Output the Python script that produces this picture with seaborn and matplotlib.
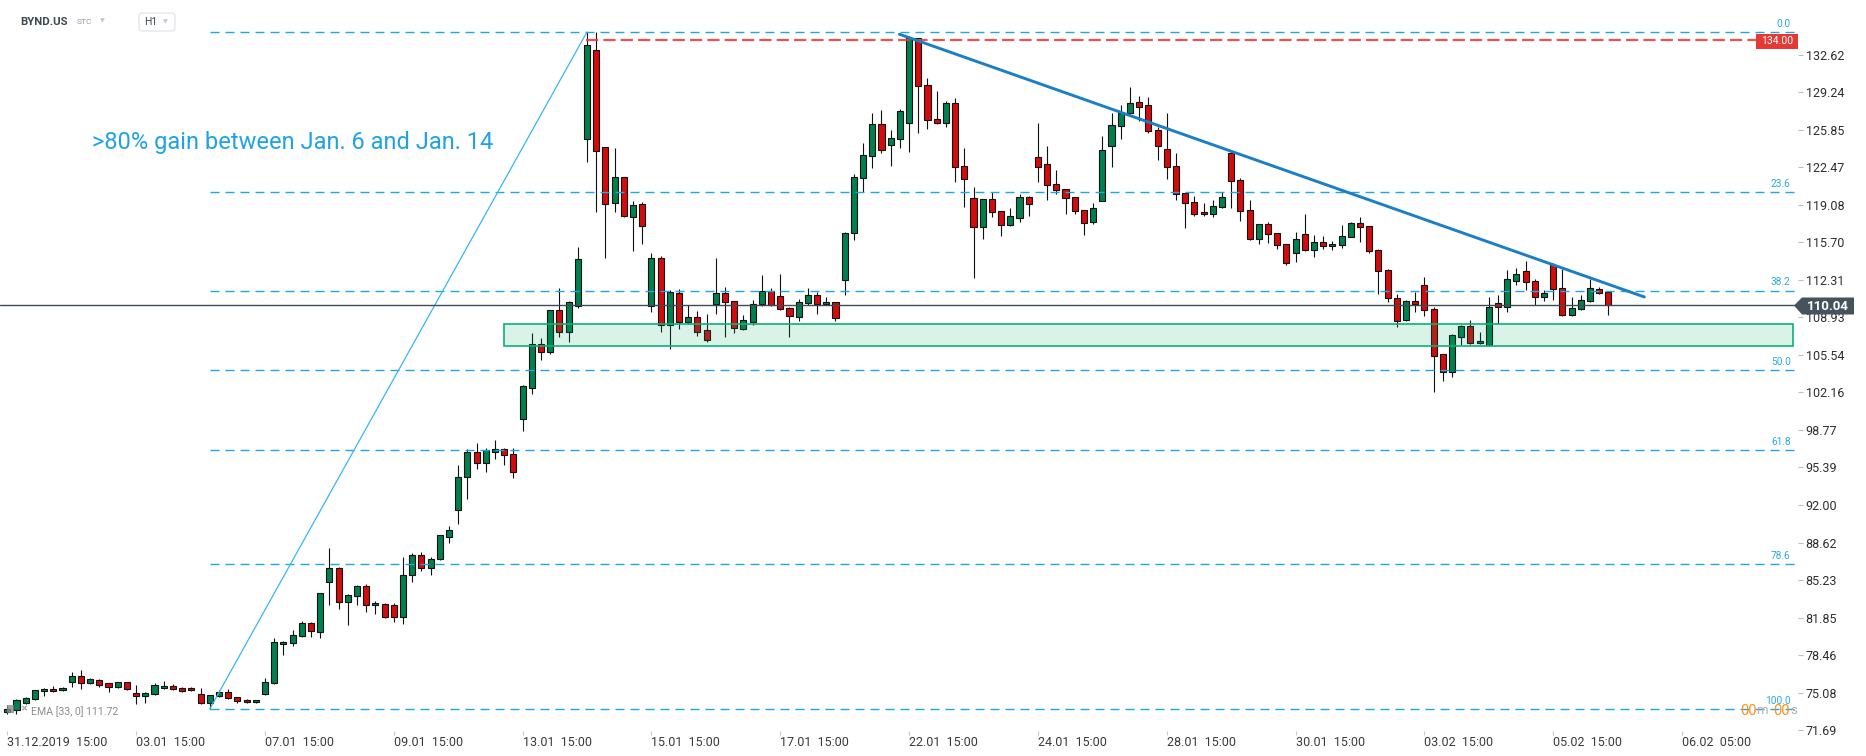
import matplotlib
matplotlib.use("Agg")
import matplotlib.pyplot as plt
from matplotlib.patches import Rectangle, Polygon, FancyBboxPatch
from matplotlib.transforms import IdentityTransform
import seaborn as sns
import pandas as pd
import numpy as np

sns.set_theme(style="white")
plt.rcParams["font.family"] = ["Roboto", "DejaVu Sans"]

W, H = 1866, 756

# BYND.US, H1 candles, 31.12.2019 15:00 .. 05.02.2020 21:00 (index = candle number)
opens = [73.32, 73.50, 74.16, 74.46, 75.19, 75.37, 75.28, 76.06, 76.54, 75.91,
         76.24, 75.91, 75.55, 76.00, 75.01, 74.74, 74.95, 75.46, 75.64, 75.46,
         75.46, 74.92, 74.10, 74.74, 75.10, 74.65, 74.37, 74.19, 74.92, 75.91,
         79.43, 79.52, 80.15, 81.32, 80.51, 85.07, 86.36, 83.26, 83.83, 84.71,
         82.94, 83.10, 83.02, 81.93, 85.72, 87.53, 86.28, 87.09, 89.14, 91.52,
         94.50, 96.80, 95.83, 96.76, 97.08, 96.63, 99.78, 102.55, 106.54, 105.82,
         109.58, 107.59, 109.95, 125.01, 133.07, 124.29, 119.23, 121.58, 118.03, 119.14,
         109.97, 114.27, 108.23, 111.11, 108.56, 108.95, 107.77, 110.12, 111.11, 110.39,
         107.86, 108.56, 110.12, 111.29, 110.84, 109.76, 108.95, 110.21, 110.93, 110.12,
         110.30, 112.31, 116.53, 121.49, 123.48, 126.36, 124.47, 125.01, 126.45, 134.13,
         129.88, 126.81, 126.45, 128.26, 122.57, 119.69, 117.13, 119.60, 118.51, 117.25,
         117.88, 119.78, 123.39, 122.75, 120.95, 120.50, 119.78, 118.60, 117.52, 119.41,
         124.38, 126.18, 127.36, 128.35, 128.08, 125.82, 124.11, 122.57, 120.14, 119.32,
         118.42, 118.24, 118.87, 123.75, 121.31, 118.60, 115.98, 117.34, 116.53, 115.53,
         114.72, 116.44, 114.99, 115.71, 115.35, 115.44, 116.17, 117.43, 117.16, 114.99,
         113.19, 110.66, 108.67, 110.42, 111.84, 109.67, 105.61, 103.98, 107.14, 108.14,
         106.60, 106.42, 110.21, 109.85, 112.20, 113.10, 112.20, 110.75, 113.64, 111.57,
         109.13, 109.67, 110.39, 111.47, 111.20]
highs = [73.95, 74.46, 74.71, 75.30, 75.52, 75.64, 75.55, 76.90, 77.08, 76.36,
         76.33, 75.97, 76.03, 76.03, 75.76, 75.10, 75.91, 76.09, 75.82, 75.55,
         75.55, 75.46, 74.83, 75.28, 75.37, 74.65, 74.46, 74.37, 76.39, 80.00,
         79.70, 80.69, 81.50, 81.41, 84.05, 88.10, 86.40, 83.95, 84.75, 84.88,
         83.34, 83.20, 83.18, 87.33, 87.69, 87.77, 87.33, 89.32, 90.11, 95.63,
         97.08, 97.56, 97.16, 97.88, 97.16, 97.16, 102.80, 107.51, 107.06, 109.62,
         111.60, 110.39, 115.32, 134.70, 134.70, 124.29, 124.23, 121.60, 119.44, 119.32,
         114.72, 114.48, 111.41, 111.50, 110.06, 109.52, 109.25, 114.27, 111.72, 110.40,
         109.16, 110.51, 112.77, 111.60, 112.86, 109.91, 110.57, 111.60, 111.20, 110.75,
         110.32, 116.60, 121.88, 124.65, 127.36, 127.66, 125.85, 127.72, 134.37, 134.15,
         130.52, 129.37, 128.47, 128.71, 124.23, 120.68, 119.62, 120.23, 118.55, 118.78,
         120.05, 119.93, 126.48, 124.38, 122.21, 120.52, 119.80, 118.62, 119.23, 125.28,
         127.36, 128.08, 129.70, 128.89, 128.80, 126.09, 127.36, 123.75, 120.15, 119.87,
         119.23, 119.50, 120.23, 123.93, 121.49, 119.50, 117.36, 117.52, 116.55, 115.55,
         116.62, 118.24, 116.35, 116.26, 115.80, 117.25, 117.52, 117.97, 117.18, 115.08,
         113.28, 111.02, 110.48, 111.23, 112.59, 109.85, 105.62, 107.41, 108.23, 108.71,
         107.59, 110.75, 110.93, 113.19, 113.37, 114.00, 112.38, 111.38, 113.82, 113.28,
         110.75, 110.93, 112.38, 111.66, 111.22]
lows = [73.11, 73.11, 74.01, 74.40, 74.80, 75.13, 75.19, 75.55, 75.43, 75.88,
        75.55, 75.16, 75.52, 75.34, 74.01, 74.16, 74.83, 75.40, 75.28, 75.10,
        75.19, 74.01, 73.59, 74.68, 74.46, 74.10, 74.10, 74.10, 74.85, 75.85,
        78.44, 79.25, 80.06, 80.06, 79.97, 82.98, 82.58, 81.21, 82.98, 82.34,
        82.14, 81.85, 81.45, 81.29, 85.07, 86.04, 85.72, 87.00, 88.62, 90.31,
        92.53, 95.22, 94.98, 96.15, 95.63, 94.46, 98.69, 101.99, 105.09, 105.61,
        107.20, 106.75, 109.76, 123.00, 118.48, 114.27, 118.48, 118.03, 114.96, 115.59,
        109.46, 107.65, 106.06, 107.90, 108.35, 107.29, 106.75, 109.28, 107.20, 107.50,
        107.80, 108.26, 109.97, 110.00, 109.60, 107.20, 108.65, 110.06, 109.28, 110.03,
        108.65, 110.96, 115.92, 120.29, 122.39, 123.81, 122.63, 124.26, 123.90, 125.55,
        125.97, 126.40, 126.09, 121.18, 118.93, 112.52, 116.04, 117.97, 116.32, 117.20,
        117.58, 118.12, 121.19, 119.50, 120.05, 118.24, 118.24, 116.35, 117.34, 119.40,
        122.48, 125.01, 127.30, 126.63, 125.55, 123.11, 121.40, 119.50, 116.98, 118.06,
        118.06, 117.97, 118.85, 118.78, 117.67, 115.95, 115.53, 115.62, 115.08, 113.64,
        113.97, 114.97, 114.36, 115.08, 114.99, 115.17, 116.15, 115.71, 114.72, 111.02,
        110.30, 108.04, 108.60, 109.46, 109.10, 102.24, 103.23, 103.53, 106.48, 106.58,
        106.51, 106.40, 108.35, 109.40, 111.84, 111.44, 110.03, 110.39, 110.51, 109.04,
        109.04, 109.58, 110.35, 111.02, 109.19]
closes = [73.56, 74.37, 74.55, 75.28, 75.37, 75.19, 75.46, 76.54, 75.91, 76.27,
          75.73, 75.55, 76.00, 75.37, 74.77, 75.01, 75.73, 75.64, 75.37, 75.19,
          75.28, 74.10, 74.83, 75.10, 74.55, 74.28, 74.19, 74.37, 76.00, 79.61,
          79.61, 80.24, 81.32, 80.60, 84.03, 86.36, 83.26, 83.91, 84.71, 83.02,
          83.18, 81.93, 81.93, 85.72, 87.53, 86.28, 87.17, 89.30, 89.79, 94.54,
          96.80, 95.83, 97.00, 97.08, 96.55, 95.02, 102.76, 106.54, 105.82, 109.58,
          107.59, 110.30, 114.18, 133.52, 123.99, 119.14, 121.58, 118.12, 119.05, 117.22,
          114.27, 108.23, 111.20, 108.56, 108.95, 107.65, 106.87, 111.11, 110.30, 107.96,
          108.68, 110.12, 111.29, 110.03, 109.67, 109.04, 110.30, 110.93, 110.12, 110.30,
          108.86, 116.53, 121.58, 123.57, 126.36, 124.02, 125.10, 127.54, 134.13, 129.79,
          126.72, 126.45, 128.26, 122.48, 121.40, 117.13, 119.60, 118.42, 117.25, 118.06,
          119.78, 119.14, 122.48, 120.86, 120.41, 119.69, 118.51, 117.43, 118.78, 124.02,
          126.27, 127.36, 128.26, 127.90, 125.73, 124.38, 122.48, 120.05, 119.23, 118.24,
          118.24, 118.96, 119.78, 121.22, 118.51, 115.98, 117.34, 116.44, 115.44, 113.82,
          115.98, 114.99, 115.71, 115.35, 115.53, 116.26, 117.43, 117.07, 114.90, 113.10,
          110.66, 108.58, 110.39, 110.18, 109.58, 105.49, 103.98, 107.32, 108.14, 106.60,
          106.78, 109.85, 109.85, 112.38, 112.83, 112.11, 110.75, 111.11, 111.47, 109.13,
          109.76, 110.48, 111.57, 111.11, 110.04]

# drawings
fib_levels = [134.70, 120.28, 111.36, 104.15, 96.93, 86.67, 73.59]
fib_labels = ["0.0", "23.6", "38.2", "50.0", "61.8", "78.6", "100.0"]
fib_start = 22
fib_anchor_x = [22, 63]
fib_anchor_y = [73.59, 134.70]
trend_x = [96.95, 177.9]
trend_y = [134.49, 110.78]
resistance = 134.00
resistance_start = 62.9
last_price = 110.04
zone_x = [54.0, 194.08]
zone_y = [106.34, 108.33]
note = ">80% gain between Jan. 6 and Jan. 14"

price_ticks = [132.62, 129.24, 125.85, 122.47, 119.08, 115.70, 112.31, 108.93, 105.54,
               102.16, 98.77, 95.39, 92.00, 88.62, 85.23, 81.85, 78.46, 75.08, 71.69]
time_ticks = [0, 14, 28, 42, 56, 70, 84, 98, 112, 126, 140, 154, 168, 182]
time_labels = ["31.12.2019  15:00", "03.01  15:00", "07.01  15:00", "09.01  15:00",
               "13.01  15:00", "15.01  15:00", "17.01  15:00", "22.01  15:00",
               "24.01  15:00", "28.01  15:00", "30.01  15:00", "03.02  15:00",
               "05.02  15:00", "06.02  05:00"]

GREEN = "#00804f"
RED = "#d40b0b"
FIB = "#1ea5ea"
XMIN, XMAX = -0.793, 194.6

df = pd.DataFrame({"open": opens, "high": highs, "low": lows, "close": closes})
df["idx"] = np.arange(len(df))
up = df["close"] >= df["open"]
body_lo = df[["open", "close"]].min(axis=1)
body_h = (df["close"] - df["open"]).abs().clip(lower=0.06)

fig = plt.figure(figsize=(W / 100, H / 100), dpi=100)
ax = fig.add_axes([0, 25 / H, 1798 / W, 731 / H])
ax.set_xlim(XMIN, XMAX)
ax.set_ylim(71.61, 137.58)
for s in ax.spines.values():
    s.set_visible(False)
ax.grid(False)

# candles
ax.vlines(df["idx"], df["low"], df["high"], color="#111111", lw=0.8, zorder=2)
ax.bar(df["idx"], body_h, bottom=body_lo, width=0.66,
       color=np.where(up, GREEN, RED), edgecolor="#111111", linewidth=0.8, zorder=3)

# fibonacci retracement
for lvl, lab in zip(fib_levels, fib_labels):
    ax.plot([fib_start, XMAX], [lvl, lvl], color=FIB, lw=1.0,
            dashes=(6.5, 4.3), zorder=3.5)
    ax.annotate(lab, xy=(193.8, lvl), xytext=(0, 2.2), textcoords="offset points",
                ha="right", va="bottom", fontsize=7.3, color="#29a9e8", zorder=7)
sns.lineplot(x=fib_anchor_x, y=fib_anchor_y, ax=ax, color="#38b6f4", lw=0.9, zorder=3.6)

# last price line
ax.axhline(last_price, color="#3e4a54", lw=1.0, zorder=3.7)

# support zone
ax.add_patch(Rectangle((zone_x[0], zone_y[0]), zone_x[1] - zone_x[0], zone_y[1] - zone_y[0],
                       facecolor=(0.0, 0.69, 0.44, 0.15), edgecolor="#0bb07a", lw=1.2, zorder=4))

# resistance and trend line
ax.plot([resistance_start, 190.0], [resistance, resistance], color="#e8403f", alpha=0.9,
        lw=1.6, dashes=(5.5, 2.3), zorder=5)
sns.lineplot(x=trend_x, y=trend_y, ax=ax, color="#1a7fc4", lw=2.1, zorder=6)

ax.text(9.2, 124.7, note, fontsize=17, color="#1fa3e6", va="center", ha="left", zorder=7)

# axes ticks
ax.yaxis.tick_right()
ax.set_yticks(price_ticks, labels=[f"{v:.2f}" for v in price_ticks])
ax.tick_params(axis="y", right=True, left=False, length=3.5, width=0.8, color="#bdbdbd",
               pad=2, labelsize=9, labelcolor="#2e2e2e")
ax.set_xticks(time_ticks, labels=time_labels, ha="left")
ax.tick_params(axis="x", bottom=True, length=3, width=0.8, color="#c8c8c8",
               pad=0.5, labelsize=9, labelcolor="#3a3a3a")
ax.set_xlabel("")
ax.set_ylabel("")

# overlays in pixel space (origin top-left of the image)
PX = IdentityTransform()


def ptext(x, y, s, **kw):
    fig.text(x, H - y, s, transform=PX, **kw)


def ppoly(points, **kw):
    fig.add_artist(Polygon([(x, H - y) for x, y in points], closed=True, transform=PX, **kw))


# last price label
ppoly([(1794, 305.5), (1802, 297.5), (1854, 297.5), (1854, 314.5), (1802, 314.5)],
      facecolor="#46535d", edgecolor="none", zorder=10)
ptext(1828, 306, "110.04", fontsize=9.5, fontweight="bold", color="white",
      ha="center", va="center", zorder=11)

# resistance label
ppoly([(1756, 34), (1798, 34), (1798, 48.5), (1756, 48.5)],
      facecolor="#e53935", edgecolor="none", zorder=10)
ptext(1777, 41.3, "134.00", fontsize=7.5, color="white", ha="center", va="center", zorder=11)

# header
ptext(20, 22, "BYND.US", fontsize=8.2, fontweight="bold", color="#3d4852", va="center")
ptext(77, 22, "STC", fontsize=6, color="#8f9aa3", va="center")
ptext(100, 21, "▼", fontsize=4.5, color="#c3c9cf", va="center")
fig.add_artist(FancyBboxPatch((139, H - 31), 36, 18, boxstyle="round,pad=0,rounding_size=3",
                              transform=PX, facecolor="white", edgecolor="#dde2e6", lw=0.8))
ptext(144, 22, "H1", fontsize=7.5, color="#3d4852", va="center")
ptext(163, 22, "▼", fontsize=4.5, color="#c3c9cf", va="center")

# indicator legend
fig.add_artist(Rectangle((7, H - 713), 7, 8, transform=PX, facecolor="#8a8a8a",
                         edgecolor="none", alpha=0.8))
ptext(20, 709, "✖", fontsize=6, color="#b5b5b5", va="center")
ptext(31, 712, "EMA [33, 0] 111.72", fontsize=7.6, color="#8c8c8c", va="center")

# countdown
ptext(1740, 711, "00", fontsize=10.5, color="#f7931e", va="center")
ptext(1756, 711, "m", fontsize=9.5, color="#b0b0b0", va="center")
ptext(1773, 711, "00", fontsize=10.5, color="#f7931e", va="center")
ptext(1790, 711, "s", fontsize=9.5, color="#b0b0b0", va="center")

fig.savefig("out.png", dpi=100, facecolor="white")
